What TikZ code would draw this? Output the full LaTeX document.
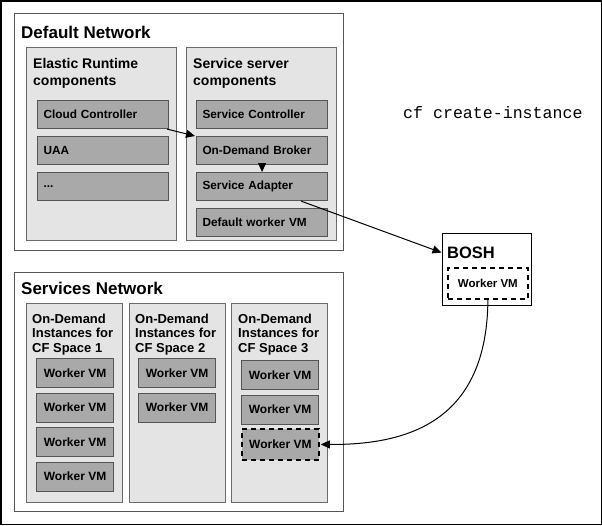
\documentclass[tikz,border=0pt]{standalone}
\usepackage{fontspec}
\setmainfont{Liberation Sans}
\setmonofont{Liberation Mono}
\usetikzlibrary{arrows.meta}
\definecolor{panelfill}{HTML}{E4E4E4}
\definecolor{compfill}{HTML}{A9A9A9}
\definecolor{edgegray}{HTML}{555555}
\definecolor{paneledge}{HTML}{6A6A6A}
\tikzset{
  netbox/.style={draw=edgegray, fill=white, line width=1pt, anchor=north west, inner sep=0pt},
  panel/.style={draw=paneledge, fill=panelfill, line width=0.9pt, anchor=north west, inner sep=0pt},
  comp/.style={draw=edgegray, fill=compfill, line width=1.1pt, anchor=north west,
    minimum height=28pt, text width=119pt, inner xsep=6pt, inner ysep=0pt, align=left,
    font=\fontsize{11.8}{14}\selectfont\bfseries},
  worker/.style={draw=edgegray, fill=compfill, line width=1.1pt, anchor=north west,
    minimum width=77pt, minimum height=29pt, inner sep=0pt,
    font=\fontsize{12}{14}\selectfont\bfseries},
  dashbox/.style={draw=black, line width=1.8pt, dash pattern=on 5pt off 4pt, anchor=north west, inner sep=0pt},
  bigttl/.style={anchor=base west, inner sep=0pt, font=\fontsize{17}{20}\selectfont\bfseries},
  midttl/.style={anchor=base west, inner sep=0pt, font=\fontsize{14}{17}\selectfont\bfseries},
  smallttl/.style={anchor=base west, inner sep=0pt, font=\fontsize{13}{15}\selectfont\bfseries},
  conn/.style={draw=black, line width=1pt, -{Triangle[length=9pt,width=8pt]}},
}
\begin{document}
\begin{tikzpicture}[x=1pt,y=-1pt]
\useasboundingbox (0,0) rectangle (602,525);
\draw[black, line width=1.5pt] (0.75,0.75) rectangle (601.25,524.25);

% Default network
\node[netbox, minimum width=329pt, minimum height=237pt] (dn) at (14,13) {};
\node[bigttl] (dnt) at (21,38) {Default Network};
\node[panel, minimum width=150pt, minimum height=193pt] (er) at (26,47) {};
\node[panel, minimum width=150pt, minimum height=193pt] (ss) at (186,47) {};
\node[midttl] (ert1) at (33,68) {Elastic Runtime};
\node[midttl] (ert2) at (33,85.5) {components};
\node[midttl] (sst1) at (193,68) {Service server};
\node[midttl] (sst2) at (193,85.5) {components};

\node[comp] (cc) at (37,100) {Cloud Controller};
\node[comp] (uaa) at (37,136) {UAA};
\node[comp] (dots) at (37,172) {...};
\node[comp] (sc) at (196,100) {Service Controller};
\node[comp] (odb) at (196,136) {On-Demand Broker};
\node[comp] (sa) at (196,172) {Service Adapter};
\node[comp] (dw) at (196,208) {Default worker VM};

% cf command
\node[anchor=west, inner sep=0pt, font=\fontsize{16.6}{18}\selectfont\ttfamily] (cmd) at (403,113) {cf create-instance};

% BOSH
\node[netbox, draw=black, line width=1.2pt, minimum width=89pt, minimum height=72pt] (bosh) at (441.5,233) {};
\node[bigttl, font=\fontsize{16.5}{20}\selectfont\bfseries] (bosht) at (447,258) {BOSH};
\node[dashbox, minimum width=80pt, minimum height=31pt, font=\fontsize{11.5}{14}\selectfont\bfseries] (bw) at (447,267) {Worker VM};

% Services network
\node[netbox, minimum width=329pt, minimum height=239pt] (sn) at (14,272) {};
\node[bigttl] (snt) at (21,294.5) {Services Network};
\node[panel, minimum width=96pt, minimum height=199pt] (p1) at (26,303) {};
\node[panel, minimum width=96pt, minimum height=199pt] (p2) at (129,303) {};
\node[panel, minimum width=96pt, minimum height=199pt] (p3) at (231,303) {};
\foreach \px/\n in {32/1,135/2,238/3}{
  \node[smallttl] (pa\n) at (\px,323) {On-Demand};
  \node[smallttl] (pb\n) at (\px,337.5) {Instances for};
  \node[smallttl] (pc\n) at (\px,352) {CF Space \n};
}
\node[worker] (w1a) at (36,358) {Worker VM};
\node[worker] (w1b) at (36,392.5) {Worker VM};
\node[worker] (w1c) at (36,427) {Worker VM};
\node[worker] (w1d) at (36,461.5) {Worker VM};
\node[worker] (w2a) at (138,358) {Worker VM};
\node[worker] (w2b) at (138,392.5) {Worker VM};
\node[worker] (w3a) at (241,360) {Worker VM};
\node[worker] (w3b) at (241,394.5) {Worker VM};
\node[worker, draw=black, line width=1.8pt, dash pattern=on 5pt off 4pt, minimum height=31pt] (w3c) at (241,428) {Worker VM};

% connectors
\draw[conn] ([xshift=-2pt]cc.south east) -- ([xshift=-1pt]odb.north west);
\draw[conn] (odb.south) -- (sa.north);
\draw[conn] ([xshift=39pt]sa.south) -- ([yshift=17pt]bosh.west);
\draw[conn] (bw.south) .. controls (487,420) and (410,445) .. ([xshift=1pt]w3c.east);
\end{tikzpicture}
\end{document}
